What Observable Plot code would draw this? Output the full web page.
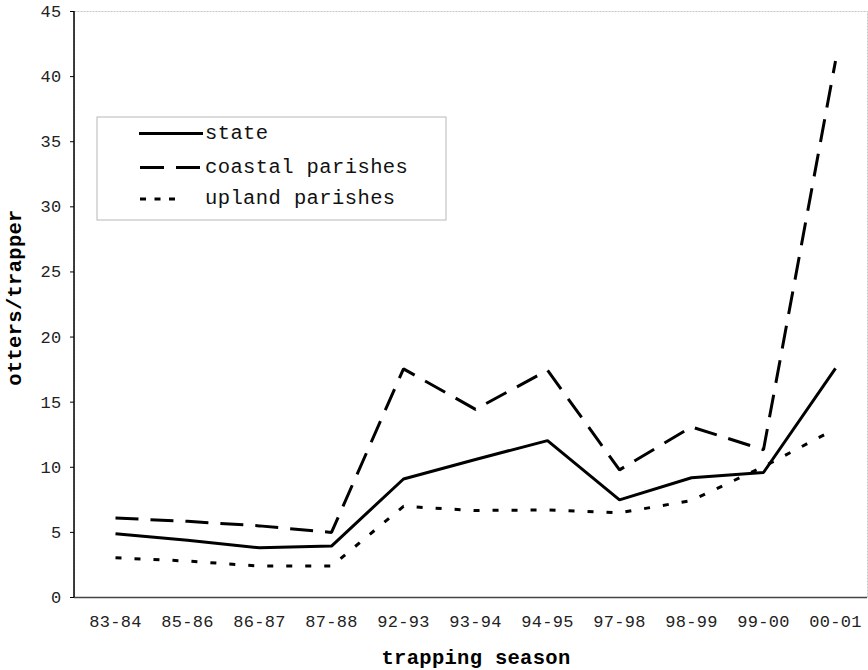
<!DOCTYPE html>
<html><head><meta charset="utf-8">
<script src="https://cdn.jsdelivr.net/npm/d3@7"></script>
<script src="https://cdn.jsdelivr.net/npm/@observablehq/plot@0.6"></script>
<style>body{margin:0;background:#fff} svg{display:block}</style>
</head><body><div id="chart"></div>
<script>
const seasons = ["83-84","85-86","86-87","87-88","92-93","93-94","94-95","97-98","98-99","99-00","00-01"];
const state   = [4.9, 4.4, 3.82, 3.95, 9.1, 10.6, 12.05, 7.5, 9.2, 9.6, 17.6];
const coastal = [6.1, 5.85, 5.5, 5.0, 17.56, 14.45, 17.45, 9.8, 13.1, 11.35, 41.2];
const upland  = [3.05, 2.8, 2.41, 2.41, 7.0, 6.68, 6.73, 6.5, 7.45, 10.05, 12.95];
const yTicks  = [0, 5, 10, 15, 20, 25, 30, 35, 40, 45];
const seriesNames = ["state", "coastal parishes", "upland parishes"];
const seriesValues = [state, coastal, upland];
const seriesDash = [null, "23,12", "6,13"];

const mono = "'Liberation Mono', 'Courier New', monospace";
const W = 868, H = 670, mL = 74, mR = 1, mT = 11, mB = 73;

const lineMarks = seriesValues.map((vals, k) =>
  Plot.line(seasons, {
    x: d => d, y: (d, i) => vals[i],
    stroke: "#000", strokeWidth: 3,
    strokeDasharray: seriesDash[k] || undefined,
    strokeLinejoin: "miter", strokeLinecap: "butt"
  })
);

const plot = Plot.plot({
  width: W, height: H,
  marginTop: mT, marginBottom: mB, marginLeft: mL, marginRight: mR,
  style: {fontFamily: mono, background: "#fff", color: "#000", overflow: "visible"},
  x: {type: "point", domain: seasons, padding: 0.47, align: 0.558},
  y: {domain: [0, 45]},
  marks: [
    Plot.frame({stroke: "#c4c4c4", strokeDasharray: "2,1"}),
    Plot.axisY({ticks: yTicks, tickSize: 4, tickPadding: 9, fontSize: 17, label: null, fill: "#222"}),
    Plot.axisX({tickSize: 0, tickPadding: 17, fontSize: 17, label: null, fill: "#222"}),
    Plot.ruleY([0], {stroke: "#444", strokeWidth: 1.4}),
    ...lineMarks,
    Plot.text(["trapping season"], {frameAnchor: "bottom", dx: 5, dy: 60, lineAnchor: "middle", textAnchor: "middle",
      fontSize: 20.5, fontWeight: "bold", fill: "#000"}),
    Plot.text(["otters/trapper"], {frameAnchor: "left", dx: -60, dy: -7, rotate: -90, lineAnchor: "middle", textAnchor: "middle",
      fontSize: 20.5, fontWeight: "bold", fill: "#000"})
  ]
});

const svg = d3.select(plot);
const ys = plot.scale("y");
// left axis line
svg.append("line")
  .attr("x1", mL).attr("x2", mL)
  .attr("y1", ys.apply(0)).attr("y2", ys.apply(45))
  .attr("stroke", "#000").attr("stroke-width", 1.5);

svg.selectAll("text").style("letter-spacing", "0.3px");

// legend
const lg = svg.append("g").attr("font-family", mono).attr("text-anchor", "start");
lg.append("rect").attr("x", 97).attr("y", 117).attr("width", 349).attr("height", 103)
  .attr("fill", "#fff").attr("stroke", "#b8b8b8").attr("stroke-width", 1);
const rowY = [133.5, 167.5, 199];
seriesNames.forEach((name, k) => {
  const ln = lg.append("line").attr("x1", 139).attr("x2", 203)
    .attr("y1", rowY[k]).attr("y2", rowY[k])
    .attr("stroke", "#000").attr("stroke-width", 3);
  if (k === 1) ln.attr("stroke-dasharray", "24,12").attr("x1", 140);
  if (k === 2) ln.attr("stroke-dasharray", "6,8.5").attr("x1", 140).attr("x2", 180);
  lg.append("text").attr("x", 205).attr("y", rowY[k] + 5)
    .attr("text-anchor", "start")
    .attr("font-size", 20.5).attr("fill", "#111").style("letter-spacing", "0.4px")
    .text(name);
});

document.getElementById("chart").append(plot);
</script>
</body></html>
